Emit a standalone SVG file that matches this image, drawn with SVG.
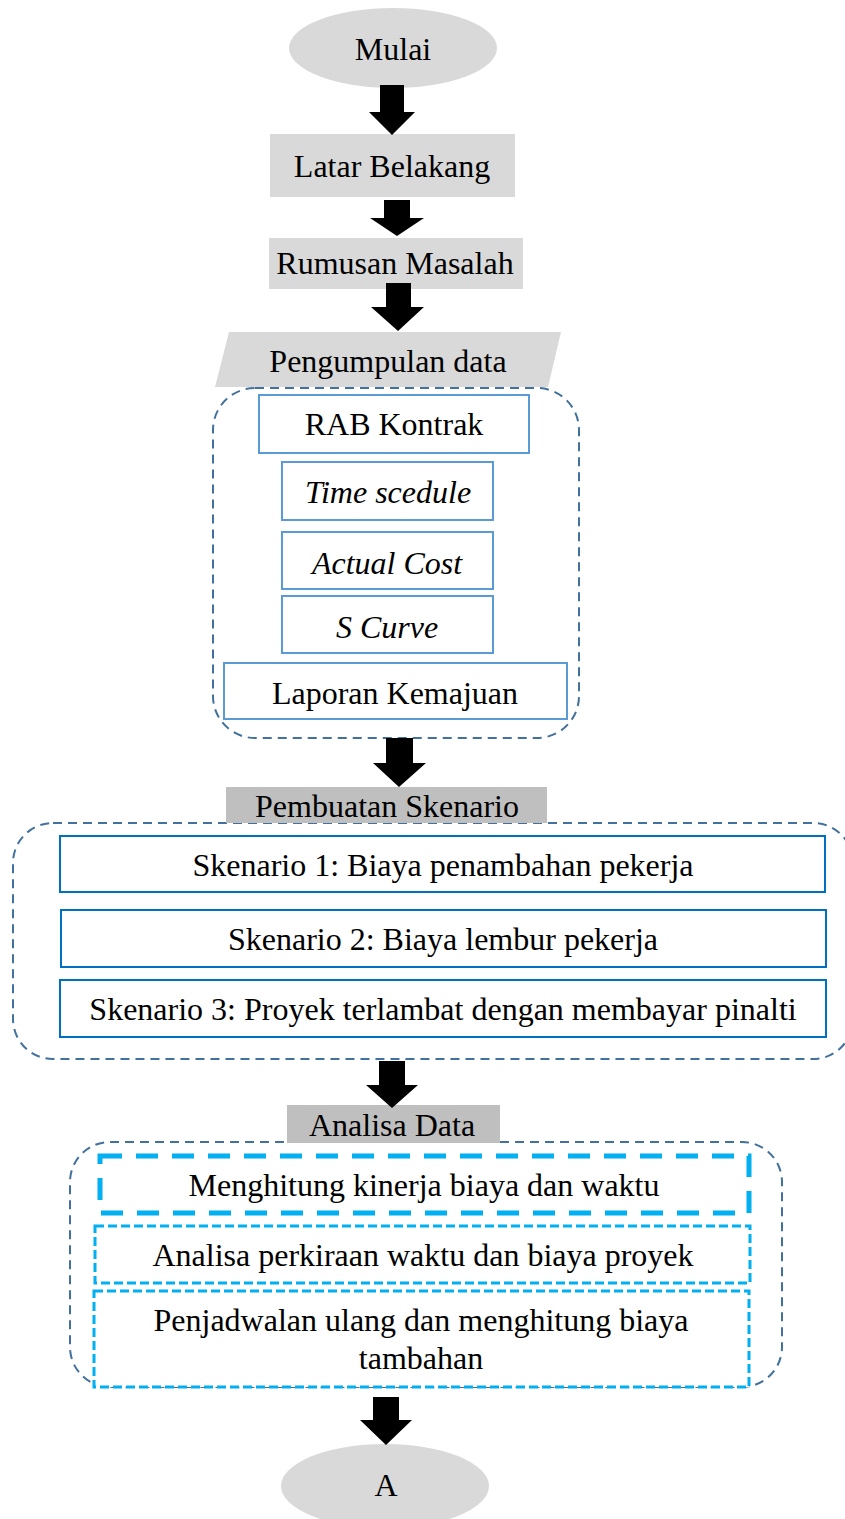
<svg xmlns="http://www.w3.org/2000/svg" width="845" height="1519" viewBox="0 0 845 1519" font-family="Liberation Serif, serif">
  <style>
    text { font-size: 32px; fill: #000; text-anchor: middle; }
    .it { font-style: italic; }
    .term { fill: #d9d9d9; }
    .proc { fill: #d9d9d9; }
    .hdr { fill: #bfbfbf; }
    .grp { fill: none; stroke: #41719c; stroke-width: 2; stroke-dasharray: 9 6; }
    .item { fill: #fff; stroke: #5b9bd5; stroke-width: 2; }
    .scen { fill: #fff; stroke: #0070c0; stroke-width: 2; }
    .step-bold { fill: #fff; stroke: #00b0f0; stroke-width: 5; stroke-dasharray: 22 14; }
    .step { fill: #fff; stroke: #00b0f0; stroke-width: 3; stroke-dasharray: 9 4; }
    .arrow { fill: #000; }
  </style>

  <!-- start terminal -->
  <g id="mulai">
    <ellipse class="term" cx="393" cy="48" rx="104" ry="40"/>
    <text x="393" y="60">Mulai</text>
  </g>

  <g id="latar-belakang">
    <rect class="proc" x="270" y="134" width="245" height="63"/>
    <text x="392" y="177">Latar Belakang</text>
  </g>

  <g id="rumusan-masalah">
    <rect class="proc" x="269" y="238" width="254" height="51"/>
    <text x="395" y="274">Rumusan Masalah</text>
  </g>

  <g id="pengumpulan-data">
    <polygon class="proc" points="229,332 561,332 548,387 215,387"/>
    <text x="388" y="372">Pengumpulan data</text>
  </g>

  <!-- data collection group -->
  <g id="data-group">
    <rect class="grp" x="213" y="388" width="366" height="350" rx="42" ry="42"/>
    <g id="rab-kontrak">
      <rect class="item" x="259" y="395" width="270" height="58"/>
      <text x="394" y="435">RAB Kontrak</text>
    </g>
    <g id="time-scedule">
      <rect class="item" x="282" y="462" width="211" height="58"/>
      <text class="it" x="388" y="503">Time scedule</text>
    </g>
    <g id="actual-cost">
      <rect class="item" x="282" y="532" width="211" height="57"/>
      <text class="it" x="387" y="574">Actual Cost</text>
    </g>
    <g id="s-curve">
      <rect class="item" x="282" y="596" width="211" height="57"/>
      <text class="it" x="387" y="638">S Curve</text>
    </g>
    <g id="laporan-kemajuan">
      <rect class="item" x="224" y="663" width="343" height="56"/>
      <text x="395" y="704">Laporan Kemajuan</text>
    </g>
  </g>

  <!-- scenario group -->
  <g id="scenario-group">
    <rect class="grp" x="13" y="823" width="840" height="236" rx="40" ry="40"/>
    <g id="pembuatan-skenario">
      <rect class="hdr" x="226" y="787" width="321" height="36"/>
      <text x="387" y="817">Pembuatan Skenario</text>
    </g>
    <g id="skenario-1">
      <rect class="scen" x="60" y="836" width="765" height="56"/>
      <text x="443" y="876">Skenario 1: Biaya penambahan pekerja</text>
    </g>
    <g id="skenario-2">
      <rect class="scen" x="61" y="910" width="765" height="57"/>
      <text x="443" y="950">Skenario 2: Biaya lembur pekerja</text>
    </g>
    <g id="skenario-3">
      <rect class="scen" x="60" y="980" width="766" height="57"/>
      <text x="443" y="1020">Skenario 3: Proyek terlambat dengan membayar pinalti</text>
    </g>
  </g>

  <!-- analysis group -->
  <g id="analysis-group">
    <rect class="grp" x="70" y="1142" width="712" height="245" rx="40" ry="40"/>
    <g id="analisa-data">
      <rect class="hdr" x="287" y="1105" width="213" height="38"/>
      <text x="392" y="1136">Analisa Data</text>
    </g>
    <g id="menghitung-kinerja">
      <rect class="step-bold" x="100" y="1156" width="649" height="57"/>
      <text x="424" y="1196">Menghitung kinerja biaya dan waktu</text>
    </g>
    <g id="analisa-perkiraan">
      <rect class="step" x="95" y="1226" width="655" height="57"/>
      <text x="423" y="1266">Analisa perkiraan waktu dan biaya proyek</text>
    </g>
    <g id="penjadwalan-ulang">
      <rect class="step" x="94" y="1291" width="655" height="96"/>
      <text x="421" y="1331">Penjadwalan ulang dan menghitung biaya</text>
      <text x="421" y="1369">tambahan</text>
    </g>
  </g>

  <!-- end terminal -->
  <g id="a">
    <ellipse class="term" cx="385" cy="1486" rx="104" ry="42"/>
    <text x="386" y="1496">A</text>
  </g>

  <!-- block arrows -->
  <g id="connectors">
    <polygon class="arrow" points="380,85 404,85 404,112 415,112 392,135 369,112 380,112"/>
    <polygon class="arrow" points="384,200 410,200 410,218 424,218 397,236 370,218 384,218"/>
    <polygon class="arrow" points="386,283 411,283 411,307 424,307 398,331 371,307 386,307"/>
    <polygon class="arrow" points="386,738 413,738 413,763 426,763 399,787 373,763 386,763"/>
    <polygon class="arrow" points="379,1061 405,1061 405,1085 418,1085 392,1108 366,1085 379,1085"/>
    <polygon class="arrow" points="373,1397 399,1397 399,1420 412,1420 386,1445 360,1420 373,1420"/>
  </g>
</svg>
